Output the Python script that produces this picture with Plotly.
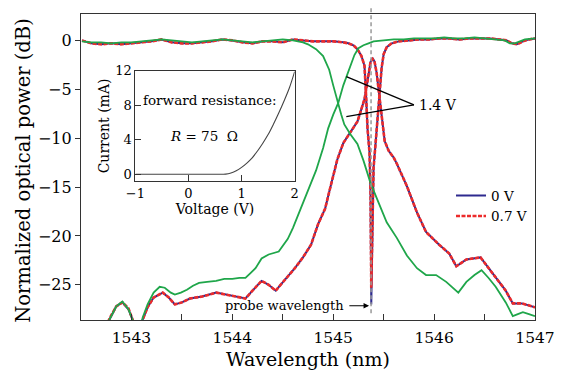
import plotly.graph_objects as go

# ---------------- data ----------------
# drop-port (lower) spectra, 0 V and 0.7 V
wl_drop = [1542.50, 1542.70, 1542.78, 1542.85, 1542.91, 1542.97, 1543.02, 1543.06, 1543.09, 1543.11,
           1543.16, 1543.22, 1543.31, 1543.37, 1543.43, 1543.50, 1543.58, 1543.70, 1543.84, 1544.00,
           1544.13, 1544.20, 1544.29, 1544.36, 1544.43, 1544.52, 1544.62, 1544.70, 1544.78, 1544.85,
           1544.92, 1544.96, 1545.04, 1545.10, 1545.19, 1545.24, 1545.28, 1545.31, 1545.33, 1545.35,
           1545.37, 1545.39, 1545.41, 1545.43, 1545.45, 1545.47, 1545.49, 1545.51, 1545.55, 1545.60,
           1545.63, 1545.73, 1545.83, 1545.92, 1546.05, 1546.15, 1546.22, 1546.32, 1546.46, 1546.54,
           1546.62, 1546.71, 1546.78, 1546.87, 1547.00]
db_drop_0v = [-31, -30.5, -28.6, -27.2, -26.8, -27.5, -28.8, -30.0, -29.5, -28.6,
              -27.3, -26.3, -25.8, -26.3, -27.0, -26.8, -26.4, -26.2, -25.8, -26.1,
              -26.4, -25.6, -24.6, -25.0, -25.6, -24.5, -23.3, -22.2, -20.9, -18.8,
              -17.2, -15.5, -12.2, -10.5, -9.1, -8.3, -7.0, -6.0, -4.8, -3.3,
              -2.2, -1.8, -2.2, -3.3, -5.0, -7.0, -8.8, -10.3, -11.3, -12.0,
              -12.6, -14.9, -17.6, -19.6, -20.9, -21.8, -23.1, -22.4, -22.2, -23.3,
              -24.4, -25.6, -26.9, -26.9, -27.3]
db_drop_07v = [-31, -30.5, -28.5, -27.2, -26.8, -27.4, -28.8, -30.0, -29.5, -28.6,
               -27.3, -26.3, -25.8, -26.3, -27.0, -26.8, -26.4, -26.2, -25.8, -26.1,
               -26.4, -25.6, -24.6, -25.0, -25.6, -24.5, -23.3, -22.2, -20.9, -18.8,
               -17.2, -15.5, -12.2, -10.5, -9.1, -8.3, -7.0, -6.0, -4.8, -3.3,
               -2.2, -1.9, -2.2, -3.3, -5.0, -7.0, -8.8, -10.3, -11.3, -12.0,
               -12.6, -14.9, -17.6, -19.6, -20.9, -21.8, -23.1, -22.4, -22.2, -23.3,
               -24.4, -25.6, -26.9, -26.9, -27.3]

# through-port (upper) spectra, 0 V and 0.7 V
wl_thru = [1542.51, 1542.6, 1542.7, 1542.8, 1542.9, 1543.0, 1543.1, 1543.2, 1543.3, 1543.4,
           1543.5, 1543.6, 1543.7, 1543.8, 1543.9, 1544.0, 1544.1, 1544.2, 1544.3, 1544.4,
           1544.5, 1544.6, 1544.7, 1544.8, 1544.9, 1545.0, 1545.1, 1545.15, 1545.2, 1545.24,
           1545.28, 1545.31, 1545.325, 1545.34, 1545.36, 1545.37, 1545.377, 1545.385, 1545.39, 1545.40,
           1545.42, 1545.44, 1545.46, 1545.48, 1545.50, 1545.53, 1545.58, 1545.65, 1545.75, 1545.85,
           1545.95, 1546.05, 1546.15, 1546.25, 1546.35, 1546.45, 1546.55, 1546.65, 1546.72, 1546.77,
           1546.82, 1546.88, 1546.94, 1547.0]
db_thru_0v = [0.0, -0.3, -0.4, -0.3, -0.4, -0.3, -0.2, -0.1, 0.1, -0.2,
              -0.3, -0.3, -0.2, -0.1, 0.1, 0.0, -0.2, -0.3, -0.1, -0.1,
              -0.2, 0.1, 0.0, -0.1, -0.1, -0.1, -0.2, -0.3, -0.5, -0.9,
              -1.6, -2.6, -5.5, -9.0, -11.5, -16.0, -27.0, -20.0, -16.0, -13.0,
              -10.5, -8.0, -5.6, -2.8, -1.4, -0.7, -0.3, -0.1, 0.0, 0.1,
              0.1, 0.2, 0.2, 0.1, 0.2, 0.2, 0.2, 0.1, 0.0, -0.3,
              -0.4, -0.1, 0.1, 0.2]
db_thru_07v = [0.0, -0.3, -0.4, -0.3, -0.4, -0.3, -0.2, -0.1, 0.1, -0.2,
               -0.3, -0.3, -0.2, -0.1, 0.1, 0.0, -0.2, -0.3, -0.1, -0.1,
               -0.2, 0.1, 0.0, -0.1, -0.1, -0.1, -0.2, -0.3, -0.5, -0.9,
               -1.6, -2.6, -5.5, -9.0, -11.5, -15.5, -25.3, -19.5, -16.0, -13.0,
               -10.5, -8.0, -5.6, -2.8, -1.4, -0.7, -0.3, -0.1, 0.0, 0.1,
               0.1, 0.2, 0.2, 0.1, 0.2, 0.2, 0.2, 0.1, 0.0, -0.3,
               -0.4, -0.1, 0.1, 0.2]

# 1.4 V: port A (upper-left -> lower-right)
wl_14v_a = [1542.51, 1542.6, 1542.7, 1542.8, 1542.9, 1543.0, 1543.1, 1543.2, 1543.3, 1543.4,
            1543.5, 1543.6, 1543.7, 1543.8, 1543.9, 1544.0, 1544.1, 1544.2, 1544.3, 1544.4,
            1544.5, 1544.6, 1544.7, 1544.75, 1544.83, 1544.90, 1544.93, 1544.96, 1545.0, 1545.03,
            1545.05, 1545.08, 1545.11, 1545.17, 1545.24, 1545.30, 1545.37, 1545.45, 1545.53, 1545.63,
            1545.73, 1545.83, 1545.92, 1546.02, 1546.12, 1546.24, 1546.32, 1546.40, 1546.47, 1546.54,
            1546.61, 1546.71, 1546.78, 1546.83, 1546.88, 1546.94, 1547.0]
db_14v_a = [-0.1, -0.2, -0.2, -0.3, -0.2, -0.2, -0.1, 0.0, 0.1, 0.0,
            -0.1, -0.2, -0.1, 0.0, 0.1, 0.0, -0.1, -0.2, -0.1, 0.0,
            0.1, 0.0, -0.2, -0.4, -0.9, -1.6, -2.3, -3.0, -4.6, -5.8,
            -6.6, -7.6, -8.6, -9.6, -10.6, -12.3, -14.6, -16.6, -18.6, -20.2,
            -22.0, -23.3, -24.0, -24.0, -24.7, -25.8, -24.7, -24.0, -23.5, -24.3,
            -25.2, -26.8, -28.2, -28.0, -27.8, -28.0, -28.2]

# 1.4 V: port B (lower-left -> upper-right)
wl_14v_b = [1542.50, 1542.70, 1542.78, 1542.85, 1542.91, 1542.97, 1543.02, 1543.06, 1543.09, 1543.11,
            1543.16, 1543.22, 1543.28, 1543.33, 1543.39, 1543.43, 1543.49, 1543.55, 1543.61, 1543.67,
            1543.75, 1543.84, 1543.92, 1544.00, 1544.07, 1544.13, 1544.18, 1544.23, 1544.29, 1544.36,
            1544.46, 1544.55, 1544.60, 1544.65, 1544.70, 1544.75, 1544.83, 1544.90, 1544.95, 1545.00,
            1545.05, 1545.10, 1545.14, 1545.18, 1545.21, 1545.25, 1545.30, 1545.35, 1545.40, 1545.50,
            1545.60, 1545.70, 1545.80, 1545.90, 1546.00, 1546.10, 1546.20, 1546.30, 1546.40, 1546.50,
            1546.60, 1546.70, 1546.75, 1546.80, 1546.85, 1546.90, 1547.00]
db_14v_b = [-31, -30.5, -28.6, -27.2, -26.7, -27.5, -28.8, -30.0, -29.5, -28.4,
            -27.0, -25.8, -25.2, -25.3, -25.8, -26.0, -25.8, -25.5, -25.1, -24.8,
            -24.7, -24.6, -24.4, -24.4, -24.3, -24.3, -23.8, -23.3, -22.3, -21.9,
            -21.6, -20.3, -19.2, -17.9, -16.6, -15.3, -13.3, -11.0, -9.0, -7.6,
            -6.4, -4.6, -3.4, -2.3, -1.5, -0.8, -0.5, -0.3, -0.1, 0.0,
            0.1, 0.1, 0.2, 0.2, 0.2, 0.3, 0.2, 0.2, 0.3, 0.2,
            0.1, 0.0, -0.3, -0.3, -0.1, 0.1, 0.2]

# inset I-V curve
iv_voltage = [-1.0, 0.0, 0.5, 0.7, 0.8, 0.9, 1.0, 1.1, 1.2, 1.3, 1.4, 1.5, 1.6, 1.7, 1.8, 1.9, 2.0]
iv_current = [0, 0, 0, 0.02, 0.15, 0.4, 0.8, 1.3, 1.9, 2.7, 3.6, 4.6, 5.8, 7.1, 8.5, 10.0, 11.9]

x_ticks = [1542.5, 1543, 1543.5, 1544, 1544.5, 1545, 1545.5, 1546, 1546.5, 1547]
x_ticktext = ["", "1543", "", "1544", "", "1545", "", "1546", "", "1547"]
y_ticks = [0, -5, -10, -15, -20, -25]
inset_xticks = [-1, 0, 1, 2]
inset_yticks = [0, 4, 8, 12]
probe_wl = 1545.375

# ---------------- styles ----------------
FONT = "DejaVu Serif"
BLUE = "#2e2a8f"
RED = "#ec2b2b"
GREEN = "#1fa64a"
AX = "#333333"

fig = go.Figure()

# 0 V (blue, solid)
fig.add_trace(go.Scatter(x=wl_thru, y=db_thru_0v, mode="lines", line=dict(color=BLUE, width=2),
                         name="0 V", legendgroup="0", showlegend=True))
fig.add_trace(go.Scatter(x=wl_drop, y=db_drop_0v, mode="lines", line=dict(color=BLUE, width=2),
                         name="0 V", legendgroup="0", showlegend=False))
# 0.7 V (red, dashed)
fig.add_trace(go.Scatter(x=wl_thru, y=db_thru_07v, mode="lines",
                         line=dict(color=RED, width=2.6, dash="4px,1.5px"),
                         name="0.7 V", legendgroup="07", showlegend=True))
fig.add_trace(go.Scatter(x=wl_drop, y=db_drop_07v, mode="lines",
                         line=dict(color=RED, width=2.6, dash="4px,1.5px"),
                         name="0.7 V", legendgroup="07", showlegend=False))
# 1.4 V (green)
fig.add_trace(go.Scatter(x=wl_14v_a, y=db_14v_a, mode="lines", line=dict(color=GREEN, width=1.8),
                         name="1.4 V", showlegend=False))
fig.add_trace(go.Scatter(x=wl_14v_b, y=db_14v_b, mode="lines", line=dict(color=GREEN, width=1.8),
                         name="1.4 V", showlegend=False))

# inset
fig.add_trace(go.Scatter(x=iv_voltage, y=iv_current, mode="lines", line=dict(color="#444444", width=1.1, shape="spline"),
                         xaxis="x2", yaxis="y2", showlegend=False))

fig.update_layout(
    width=562, height=371,
    margin=dict(l=81, r=22, t=7, b=51),
    paper_bgcolor="white", plot_bgcolor="white",
    font=dict(family=FONT, color="black"),
    xaxis=dict(range=[1542.5, 1547], tickvals=x_ticks, ticktext=x_ticktext,
               ticks="inside", ticklen=6, tickwidth=1.2, tickcolor=AX,
               showline=True, linecolor=AX, linewidth=1.3, mirror=True,
               showgrid=False, zeroline=False, tickfont=dict(size=15.5, family=FONT),
               ticklabelstandoff=3),
    yaxis=dict(range=[-28.6, 2.7], tickvals=y_ticks,
               ticks="outside", ticklen=5, tickwidth=1.2, tickcolor=AX,
               showline=True, linecolor=AX, linewidth=1.3, mirror=True,
               showgrid=False, zeroline=False, tickfont=dict(size=16, family=FONT)),
    xaxis2=dict(domain=[0.1198, 0.4706], anchor="y2", range=[-1, 2], tickvals=inset_xticks,
                ticks="inside", ticklen=6, tickcolor=AX, showline=True, linecolor=AX, linewidth=1.2,
                mirror=True, showgrid=False, zeroline=False, tickfont=dict(size=13, family=FONT),
                title=dict(text="Voltage (V)", font=dict(size=14, family=FONT), standoff=2)),
    yaxis2=dict(domain=[0.4537, 0.8147], anchor="x2", range=[-0.8, 12], tickvals=inset_yticks,
                ticks="inside", ticklen=6, tickcolor=AX, showline=True, linecolor=AX, linewidth=1.2,
                mirror=True, showgrid=False, zeroline=False, tickfont=dict(size=13, family=FONT),
                title=dict(text="Current (mA)", font=dict(size=14, family=FONT), standoff=2)),
    legend=dict(x=0.815, y=0.457, xanchor="left", yanchor="top", bgcolor="rgba(0,0,0,0)",
                font=dict(size=13.5, family=FONT), tracegroupgap=0),
)

# vertical probe-wavelength dashed line
fig.add_shape(type="line", xref="x", yref="paper", x0=probe_wl, x1=probe_wl, y0=0.022, y1=1.02,
              line=dict(color="#999999", width=1.5, dash="4px,3px"))

# 1.4 V pointer lines
fig.add_shape(type="line", xref="x", yref="y", x0=1545.80, y0=-6.6, x1=1545.13, y1=-3.7,
              line=dict(color="black", width=1.3))
fig.add_shape(type="line", xref="x", yref="y", x0=1545.80, y0=-6.6, x1=1545.13, y1=-7.8,
              line=dict(color="black", width=1.3))

annotations = [
    dict(text="1.4 V", x=1545.83, y=-6.6, xref="x", yref="y", xanchor="left", yanchor="middle",
         showarrow=False, font=dict(size=14, family=FONT)),
    dict(text="probe wavelength", x=1545.125, y=-27.15, xref="x", yref="y", xanchor="right", yanchor="middle",
         showarrow=False, font=dict(size=13, family=FONT)),
    dict(text="", x=1545.355, y=-27.15, ax=1545.145, ay=-27.15, xref="x", yref="y", axref="x", ayref="y",
         showarrow=True, arrowhead=2, arrowsize=1, arrowwidth=1.1, arrowcolor="black"),
    dict(text="forward resistance:", x=0.40, y=8.6, xref="x2", yref="y2", xanchor="center", yanchor="middle",
         showarrow=False, font=dict(size=13.5, family=FONT)),
    dict(text="<i>R</i> = 75  Ω", x=0.29, y=4.4, xref="x2", yref="y2", xanchor="center", yanchor="middle",
         showarrow=False, font=dict(size=13.5, family=FONT)),
    dict(text="Wavelength (nm)", x=0.5, y=-0.127, xref="paper", yref="paper", xanchor="center", yanchor="middle",
         showarrow=False, font=dict(size=19, family=FONT)),
    dict(text="Normalized optical power (dB)", x=-0.1285, y=0.49, xref="paper", yref="paper",
         xanchor="center", yanchor="middle", textangle=-90,
         showarrow=False, font=dict(size=19.5, family=FONT)),
]
fig.update_layout(annotations=annotations)

fig.write_html("out.html")
